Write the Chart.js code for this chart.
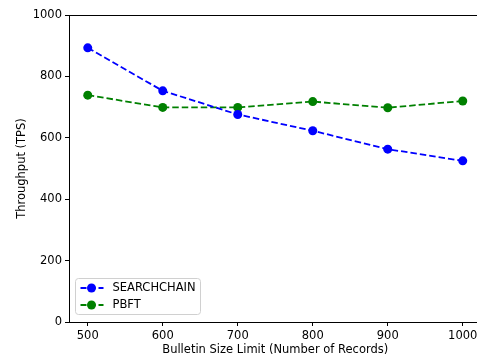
<!DOCTYPE html>
<html>
<head>
<meta charset="utf-8">
<script src="https://cdn.jsdelivr.net/npm/chart.js@4.4.0/dist/chart.umd.min.js"></script>
<style>
  html, body { margin: 0; padding: 0; overflow: hidden; background: #fff; }
  #wrap { width: 477px; height: 357px; overflow: hidden; }
</style>
</head>
<body>
<div id="wrap"><canvas id="chart" width="486" height="357"></canvas></div>
<script>
// bulletin size limit (number of records)
const sizes = [500, 600, 700, 800, 900, 1000]
const searchchain = [893, 753, 676, 623, 563, 525]
const pbft = [739, 699, 699, 718, 698, 720]
const xTicks = [500, 600, 700, 800, 900, 1000]
const yTicks = [0, 200, 400, 600, 800, 1000]

const FONT = 'DejaVu Sans'
const FS = 11.5

const toPoints = (vals) => vals.map((v, i) => ({ x: sizes[i], y: v }))

// matplotlib-ish frame + boxed legend in the lower left
const frameAndLegend = {
  id: 'frameAndLegend',
  afterDraw (chart) {
    const { ctx, chartArea: a } = chart
    ctx.save()
    ctx.strokeStyle = '#000'
    ctx.lineWidth = 1
    ctx.beginPath()
    ctx.moveTo(a.left, a.top + 0.5)
    ctx.lineTo(a.right, a.top + 0.5)
    ctx.stroke()

    const bx = 75.5, by = 278.5, bw = 125, bh = 36
    ctx.fillStyle = 'rgba(255,255,255,0.8)'
    ctx.strokeStyle = '#d0d0d0'
    ctx.beginPath()
    ctx.roundRect(bx, by, bw, bh, 3)
    ctx.fill()
    ctx.stroke()

    chart.data.datasets.forEach((ds, i) => {
      const y = by + 9.5 + i * 17
      ctx.strokeStyle = ds.borderColor
      ctx.lineWidth = 1.8
      ctx.setLineDash([6, 3])
      ctx.beginPath()
      ctx.moveTo(bx + 5, y)
      ctx.lineTo(bx + 28, y)
      ctx.stroke()
      ctx.setLineDash([])
      ctx.fillStyle = ds.borderColor
      ctx.beginPath()
      ctx.arc(bx + 16, y, 4.5, 0, Math.PI * 2)
      ctx.fill()
      ctx.fillStyle = '#000'
      ctx.font = FS + 'px ' + FONT
      ctx.textBaseline = 'middle'
      ctx.fillText(ds.label, bx + 37, y + 0.5)
    })
    ctx.restore()
  }
}

const lineStyle = (color) => ({
  borderColor: color,
  backgroundColor: color,
  pointBackgroundColor: color,
  pointBorderColor: color,
  pointBorderWidth: 0,
  borderWidth: 1.8,
  borderDash: [6.5, 3],
  pointRadius: 4.5,
  pointHoverRadius: 4.5,
  tension: 0,
  fill: false
})

const chart = new Chart(document.getElementById('chart').getContext('2d'), {
  type: 'line',
  data: {
    datasets: [
      { label: 'SEARCHCHAIN', data: toPoints(searchchain), ...lineStyle('#0000ff') },
      { label: 'PBFT', data: toPoints(pbft), ...lineStyle('#008000') }
    ]
  },
  options: {
    responsive: false,
    animation: false,
    devicePixelRatio: 1,
    layout: { padding: { top: 15, right: 0, left: 15, bottom: 0 } },
    plugins: {
      legend: { display: false },
      tooltip: { enabled: false }
    },
    scales: {
      x: {
        type: 'linear',
        min: 475,
        max: 1025,
        afterBuildTicks: (s) => { s.ticks = xTicks.map(v => ({ value: v })) },
        afterFit: (s) => { s.height = 35 },
        grid: { drawOnChartArea: false, drawTicks: true, tickLength: 4, color: '#000' },
        border: { display: true, color: '#000', width: 1 },
        ticks: {
          color: '#000',
          font: { family: FONT, size: FS },
          padding: 3,
          maxRotation: 0,
          callback: (v) => String(v)
        },
        title: {
          display: true,
          text: 'Bulletin Size Limit (Number of Records)',
          color: '#000',
          font: { family: FONT, size: FS },
          padding: { top: 0, bottom: 0 }
        }
      },
      y: {
        min: 0,
        max: 1000,
        afterBuildTicks: (s) => { s.ticks = yTicks.map(v => ({ value: v })) },
        afterFit: (s) => { s.width = 54 },
        grid: { drawOnChartArea: false, drawTicks: true, tickLength: 4, color: '#000' },
        border: { display: true, color: '#000', width: 1 },
        ticks: {
          color: '#000',
          font: { family: FONT, size: FS },
          padding: 3,
          callback: (v) => String(v)
        },
        title: {
          display: true,
          text: 'Throughput (TPS)',
          color: '#000',
          font: { family: FONT, size: FS },
          padding: { top: 0, bottom: 0 }
        }
      }
    }
  },
  plugins: [frameAndLegend]
})
</script>
</body>
</html>
